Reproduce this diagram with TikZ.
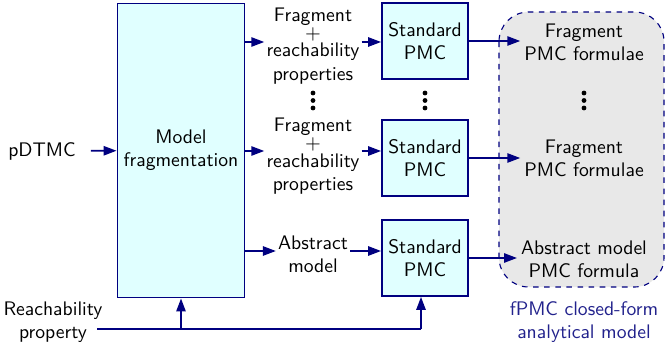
\documentclass[tikz,border=0pt]{standalone}
\usepackage{tikz}
\usepackage{xcolor}
\usepackage{amsmath}
\usetikzlibrary{arrows.meta}
\definecolor{PmcNavy}{HTML}{000080}
\definecolor{PmcCyan}{HTML}{E0FFFF}
\definecolor{PmcGray}{HTML}{E8E8E8}
\definecolor{PmcBlue}{HTML}{22228C}

\begin{document}
\begin{tikzpicture}[x=0.54pt, y=-0.54pt, font=\sffamily\fontsize{10.6pt}{12.6pt}\selectfont,
    block/.style={draw=PmcNavy, line width=1pt, fill=PmcCyan, align=center},
    label/.style={align=center, inner sep=1pt},
    flow/.style={-{Triangle[length=7pt,width=5pt]}, line width=1pt, draw=PmcNavy}]
    \useasboundingbox (0,0) rectangle (665,354);

    % closed-form region
    \draw[dashed, draw=PmcNavy, line width=0.6pt, fill=PmcGray, rounded corners=16pt] (499,12) rectangle (664,287);
    \node[label, text=PmcBlue] (closed) at (584,322) {fPMC closed-form\\analytical model};

    \node[label, inner xsep=8pt] (pdtmc) at (42,151) {pDTMC};
    \node[block, minimum width=67pt, minimum height=158.8pt] (frag) at (181,150.5) {Model\\fragmentation};
    \node[label] (reach) at (53,322) {Reachability\\property};

    \node[label] (fraga) at (313,46) {Fragment\\[-3pt]$+$\\[-3pt]reachability\\properties};
    \node[label] (fragb) at (313,156.5) {Fragment\\[-3pt]$+$\\[-3pt]reachability\\properties};
    \node[label] (abs) at (313,254) {Abstract\\model};

    \node[block, minimum width=46.4pt, minimum height=41pt] (stda) at (425,41) {Standard\\PMC};
    \node[block, minimum width=46.4pt, minimum height=41pt] (stdb) at (425,158) {Standard\\PMC};
    \node[block, minimum width=46.4pt, minimum height=41pt] (stdc) at (425,258) {Standard\\PMC};

    \node[label, inner sep=2pt] (outa) at (584,42) {Fragment\\PMC formulae};
    \node[label, inner sep=2pt] (outb) at (584,158) {Fragment\\PMC formulae};
    \node[label, inner sep=2pt] (outc) at (584,259) {Abstract model\\PMC formula};

    % vertical dots
    \foreach \x in {313,425,584}
        \foreach \y in {93,100.5,108}
            \fill (\x,\y) circle (1.3pt);

    \coordinate (busin) at (97,329);
    \coordinate (bus) at (421,329);

    \draw[flow] (pdtmc) -- (frag);
    \draw[flow] (frag.east |- 0,42) -- (fraga.west |- 0,42);
    \draw[flow] (frag.east |- 0,151) -- (fragb.west |- 0,151);
    \draw[flow] (frag.east |- 0,251) -- (abs.west |- 0,251);
    \draw[flow] (fraga.east |- 0,42) -- (stda.west |- 0,42);
    \draw[flow] (fragb.east |- 0,151) -- (stdb.west |- 0,151);
    \draw[flow] (abs.east |- 0,251) -- (stdc.west |- 0,251);
    \draw[flow] (stda) -- (stda -| outa.west);
    \draw[flow] (stdb) -- (stdb -| outb.west);
    \draw[flow] (stdc) -- (stdc -| outc.west);
    \draw[line width=1pt, PmcNavy] (busin) -- (bus);
    \draw[flow] (frag.south |- bus) -- (frag.south);
    \draw[flow] (bus) -- (bus |- stdc.south);
\end{tikzpicture}
\end{document}
